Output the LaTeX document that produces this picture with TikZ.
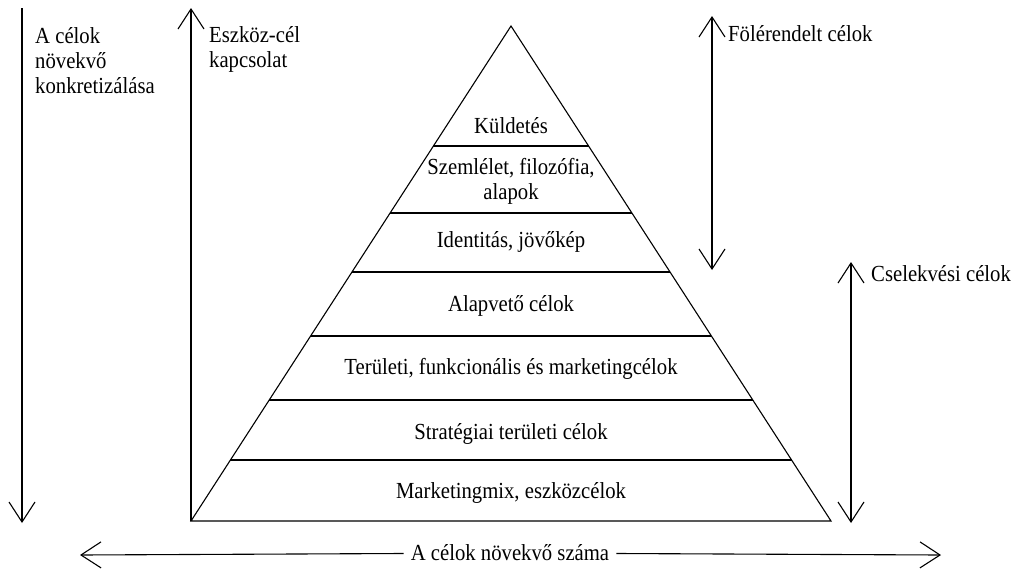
\documentclass[tikz,border=0pt]{standalone}
\usepackage{fontspec}
\setmainfont{Liberation Serif}[FakeStretch=0.9]
\usetikzlibrary{arrows.meta}
\usetikzlibrary{positioning}
\usetikzlibrary{calc}

\begin{document}
\begin{tikzpicture}[x=1pt,y=-1pt]

\tikzstyle{line}=[draw, line width=1.1pt, -{Straight Barb[length=20pt,width=26pt]}]
\tikzstyle{twoway}=[draw, line width=1.1pt, {Straight Barb[length=20pt,width=26pt]}-{Straight Barb[length=20pt,width=26pt]}]
\tikzstyle{edge}=[draw, line width=1.1pt]
\tikzstyle{level}=[font=\fontsize{23}{25}\selectfont, align=center, inner sep=0pt]
\tikzstyle{caption}=[font=\fontsize{23}{25}\selectfont, align=left, inner sep=0pt, anchor=north west]

\useasboundingbox (0,0) rectangle (1022,576);

% pyramid
\coordinate (apex) at (511,26);
\coordinate (base_left) at (191,521);
\coordinate (base_right) at (831,521);
\path[edge, line join=miter] (apex) -- (base_left) -- (base_right) -- cycle;

\foreach \y in {146,213,272,336,400,460} {
  \pgfmathsetmacro{\t}{(\y-26)/495}
  \path[edge] ($(apex)!\t!(base_left)$) -- ($(apex)!\t!(base_right)$);
}

\node[level] (mission) at (511,126) {Küldetés};
\node[level] (vision) at (511,181) {Szemlélet, filozófia,\\alapok};
\node[level] (identity) at (511,242) {Identitás, jövőkép};
\node[level] (basic_goals) at (511,306) {Alapvető célok};
\node[level] (functional_goals) at (511,369) {Területi, funkcionális és marketingcélok};
\node[level] (strategic_goals) at (511,434) {Stratégiai területi célok};
\node[level] (mix_goals) at (511,493) {Marketingmix, eszközcélok};

% side arrows
\coordinate (concrete_top) at (22,8);
\coordinate (concrete_bottom) at (22,523);
\coordinate (means_top) at (191,8);
\coordinate (superior_top) at (712,16);
\coordinate (superior_bottom) at (712,270);
\coordinate (action_top) at (851,262);
\coordinate (action_bottom) at (851,523);

\path[line] (concrete_top) -- (concrete_bottom);
\path[line] (base_left) -- (means_top);
\path[twoway] (superior_top) -- (superior_bottom);
\path[twoway] (action_top) -- (action_bottom);

\node[caption] (concrete_label) at (35,27) {A célok\\növekvő\\konkretizálása};
\node[caption] (means_label) at (209,26) {Eszköz-cél\\kapcsolat};
\node[caption] (superior_label) at (728,25) {Fölérendelt célok};
\node[caption] (action_label) at (871,265) {Cselekvési célok};

% bottom arrow
\coordinate (count_left) at (80,555);
\coordinate (count_right) at (941,555);
\node[level, inner xsep=7pt] (count_label) at (510,553) {A célok növekvő száma};
\path[line] (count_label) -- (count_left);
\path[line] (count_label) -- (count_right);

\end{tikzpicture}
\end{document}
